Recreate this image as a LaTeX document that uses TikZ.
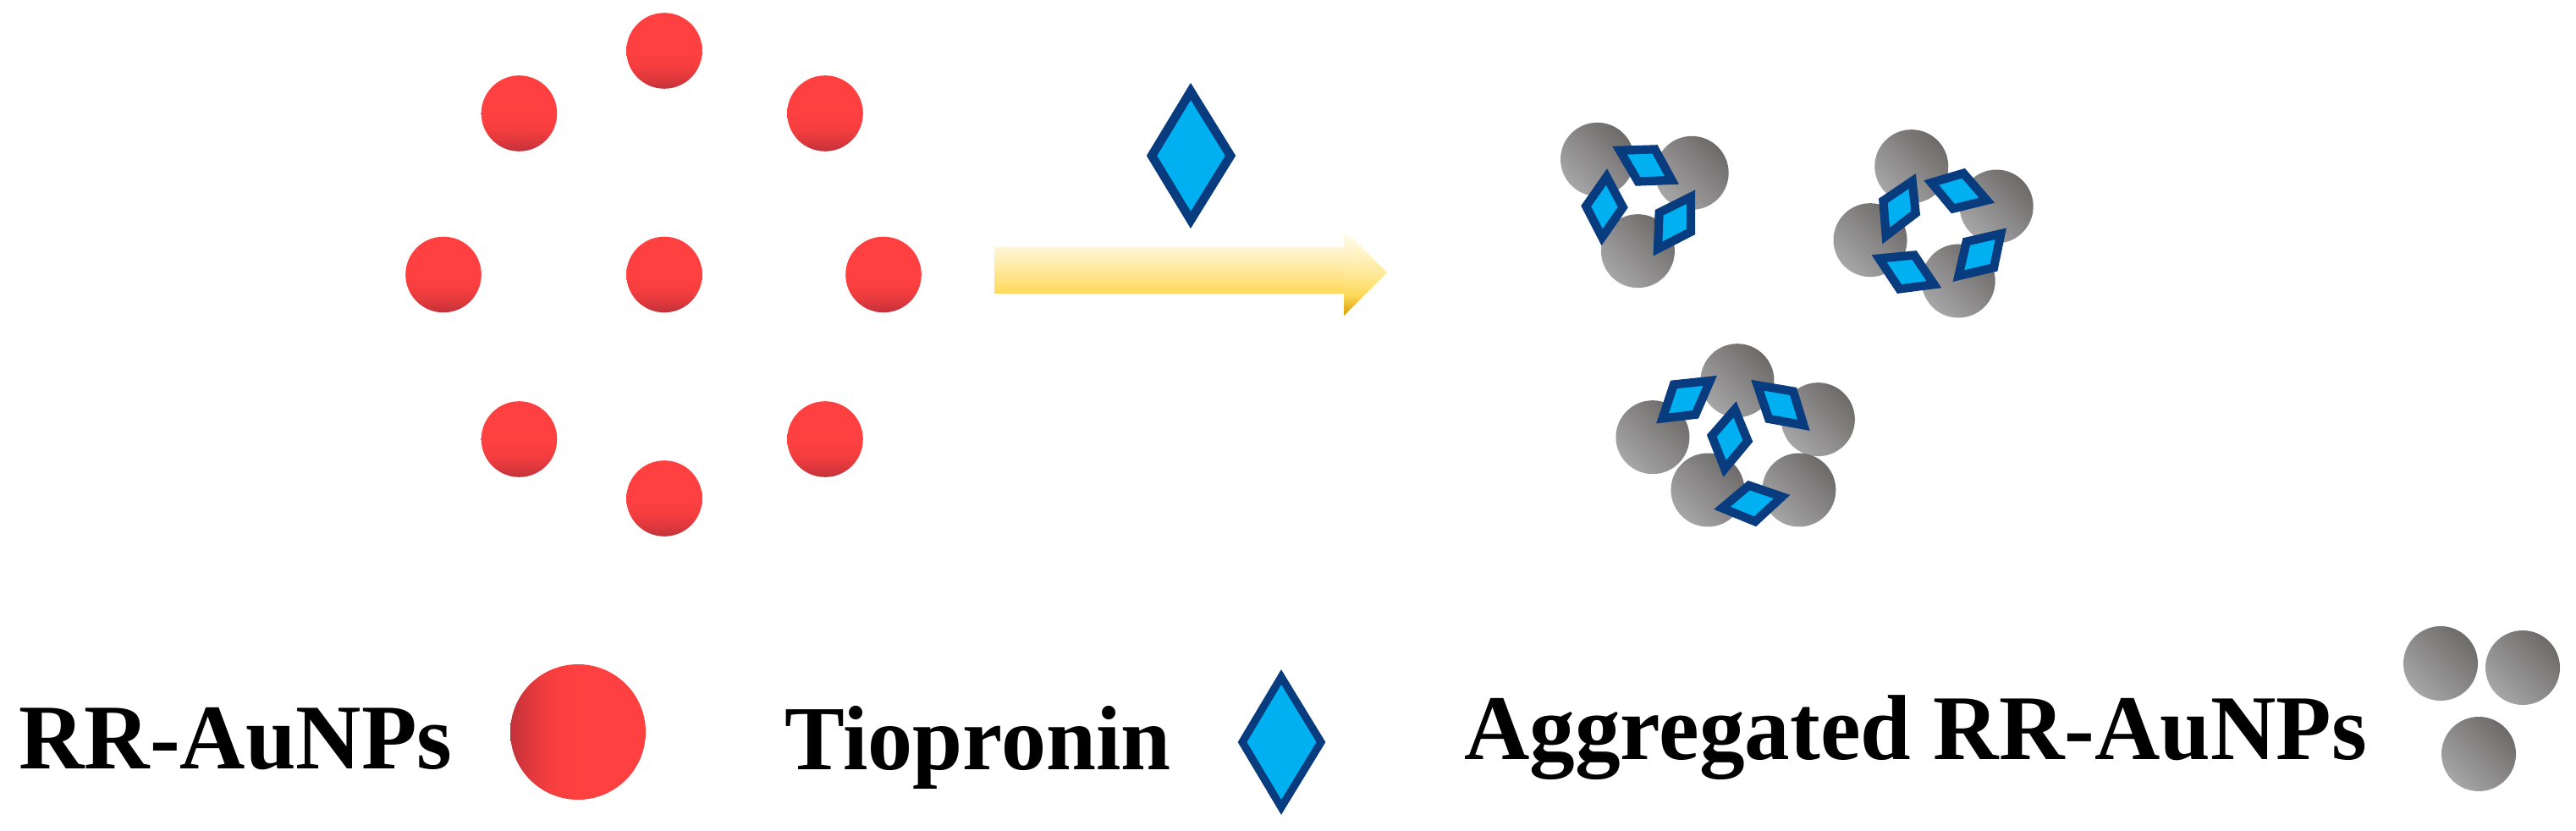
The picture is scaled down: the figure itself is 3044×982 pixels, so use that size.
\documentclass[tikz,border=0pt]{standalone}
\usepackage{fontspec}
\setmainfont{Liberation Serif}
\usetikzlibrary{calc}
\definecolor{navy}{HTML}{083C7E}
\definecolor{sky}{HTML}{00B0F0}
\definecolor{redhi}{HTML}{FF4040}
\definecolor{redmid}{HTML}{E2393D}
\definecolor{redsoft}{HTML}{F63E3F}
\definecolor{redlo}{HTML}{C2323A}
\definecolor{grayhi}{HTML}{6E6A6A}
\definecolor{graylo}{HTML}{A6A6A6}
\definecolor{hA}{HTML}{FFFDF6}
\definecolor{hB}{HTML}{FFE99A}
\definecolor{hC}{HTML}{FFD95A}
\definecolor{hD}{HTML}{D49C00}
\pgfdeclareverticalshading{redball}{100bp}{color(0bp)=(redlo); color(25bp)=(redlo); color(33bp)=(redmid); color(40bp)=(redsoft); color(50bp)=(redhi); color(75bp)=(redhi); color(100bp)=(redhi)}
\pgfdeclareverticalshading{arrowhead}{100bp}{color(0bp)=(hD); color(25bp)=(hD); color(37bp)=(hC); color(50bp)=(hB); color(75bp)=(hA); color(100bp)=(hA)}
\tikzset{
  grayball/.style={shade, top color=grayhi, bottom color=graylo, shading angle=-45, draw=none},
  redball/.style={shade, shading=redball, draw=none},
  rhomb/.style={draw=navy, fill=sky, line width=5.8pt, line join=miter, miter limit=20},
  label/.style={anchor=base west, inner sep=0pt, text=black, yscale=1.02, transform shape}
}
% ball centre given in zoom coordinates of the cluster area, converted to reference pixels
\newcommand{\gball}[2]{\path[grayball] ({1800+#1*0.41667},{130+#2/3}) circle [radius=43.5];}
% parallelogram from its outer (mitred) corners
\newcommand{\parag}[4]{%
  \coordinate (mm) at ($#1!.5!#3$);
  \draw[rhomb] ($(mm)!.8!#1$) -- ($(mm)!.8!#2$) -- ($(mm)!.8!#3$) -- ($(mm)!.8!#4$) -- cycle;}
\begin{document}
\begin{tikzpicture}[x=0.02cm,y=-0.02cm]
\useasboundingbox (0,0) rectangle (3044,982);
% red particles
\foreach \cx/\cy in {785/60,613.5/134,975/134,524/324.5,785/324.5,1044/324.5,613.5/519,975/519,785/589}{
  \path[redball] (\cx,\cy) circle [radius=44.8];
}
% reagent diamond and arrow
\draw[navy, fill=sky, line width=6pt, line join=miter, miter limit=20]
  (1407,108) -- (1454,184) -- (1407,260) -- (1361,184) -- cycle;
\path[shade, top color=hA!80!hC, bottom color=hC, draw=none] (1175,293) rectangle (1590,347);
\path[shade, shading=arrowhead, draw=none] (1588,272) -- (1639,322) -- (1588,373) -- cycle;
% clusters
\gball{210}{175}\gball{478}{223}\gball{325}{500}
\gball{1101}{200}\gball{1342}{342}\gball{984}{461}\gball{1234}{606}
\gball{607}{959}\gball{836}{1097}\gball{367}{1160}\gball{523}{1347}\gball{782}{1347}
\begin{scope}[shift={(1800,130)}, x=0.008333cm, y=-0.006667cm]
  \parag{(255,130)}{(380,125)}{(440,262)}{(320,268)}
  \parag{(238,210)}{(296,345)}{(222,478)}{(165,340)}
  \parag{(487,285)}{(487,440)}{(370,515)}{(375,355)}
  \parag{(1113,228)}{(1125,370)}{(1020,470)}{(1010,315)}
  \parag{(1138,250)}{(1252,208)}{(1335,328)}{(1215,365)}
  \parag{(1370,420)}{(1345,570)}{(1220,607)}{(1248,455)}
  \parag{(990,515)}{(1115,500)}{(1185,630)}{(1062,650)}
  \parag{(547,943)}{(495,1093)}{(378,1110)}{(418,960)}
  \parag{(648,958)}{(775,985)}{(812,1135)}{(688,1107)}
  \parag{(604,1035)}{(650,1175)}{(568,1298)}{(522,1152)}
  \parag{(638,1315)}{(755,1365)}{(660,1475)}{(543,1415)}
\end{scope}
% legend
\node[label, font=\fontsize{61}{61}\selectfont\bfseries] (lab1) at (22,908) {RR-AuNPs};
\path[shade, shading=redball, shading angle=-90, draw=none] (683,865) circle [radius=80];
\node[label, font=\fontsize{60.4}{61}\selectfont\bfseries] (lab2) at (927,909) {Tiopronin};
\draw[navy, fill=sky, line width=5.2pt, line join=miter, miter limit=20]
  (1514,800) -- (1561,877) -- (1514,954) -- (1468,877) -- cycle;
\node[label, font=\fontsize{61}{61}\selectfont\bfseries] (lab3) at (1730,897) {Aggregated RR-AuNPs};
\path[grayball] (2884,784) circle [radius=44];
\path[grayball] (2981,789) circle [radius=44];
\path[grayball] (2929,891) circle [radius=44];
\end{tikzpicture}
\end{document}
